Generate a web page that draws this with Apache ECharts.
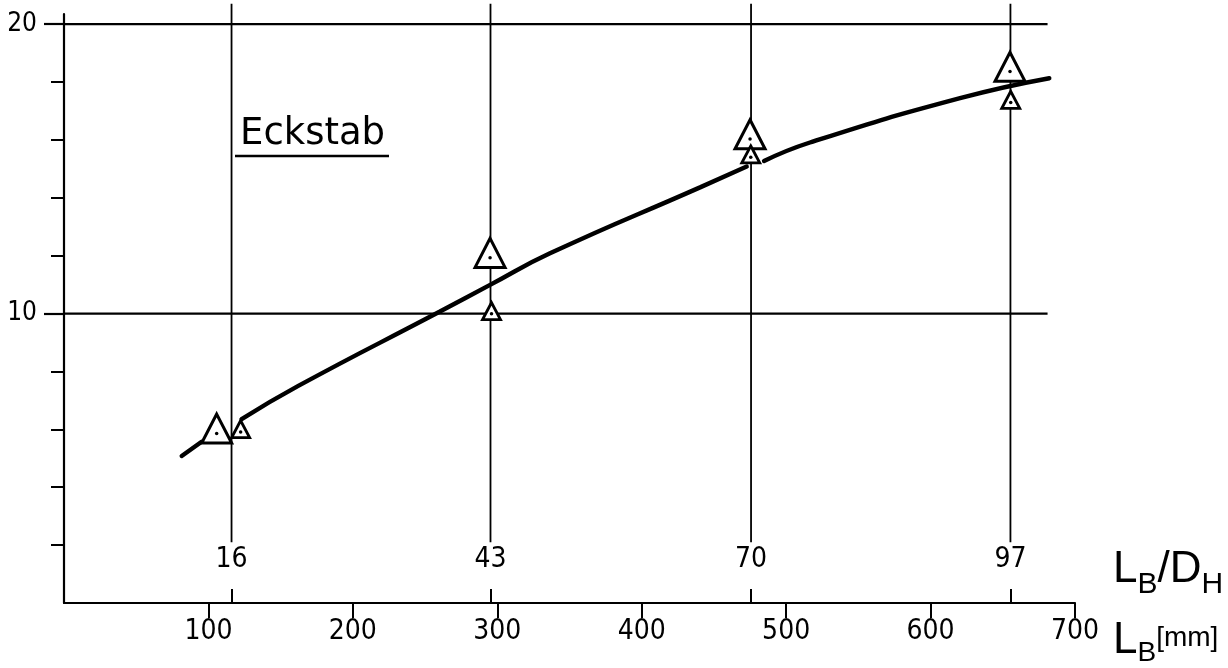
<!DOCTYPE html>
<html>
<head>
<meta charset="utf-8">
<script src="https://cdn.jsdelivr.net/npm/echarts@6/dist/echarts.min.js"></script>
<style>
  html, body { margin: 0; padding: 0; background: #fff; }
  #chart { width: 1228px; height: 668px; }
</style>
</head>
<body>
<div id="chart"></div>
<script>
// Eckstab: measured quantity over bundle length L_B [mm]
const lbTicks = [100, 200, 300, 400, 500, 600, 700];
const yMinorTicks = [2, 4, 6, 8, 12, 14, 16, 18];
const yMajorTicks = [10, 20];
const ratioLabels = ['16', '43', '70', '97'];          // L_B/D_H
const ratioPositions = [116, 295.3, 475.7, 655.3];     // same positions in L_B [mm]
const bigTriangles = [[105.7, 5.86], [295, 11.93], [475, 16.03], [655, 18.36]];
const smallTriangles = [[122.3, 5.91], [296, 9.99], [475.5, 15.40], [655.5, 17.29]];
const curveA = [[81.5, 5.08], [95.3, 5.57]];
const curveB = [[123, 6.35], [162.2, 7.50], [260.3, 10.07], [295, 10.99], [336.5, 12.08], [440.4, 14.36], [472.7, 15.08]];
const curveC = [[484.7, 15.27], [516.5, 15.91], [620.4, 17.44], [682.2, 18.13]];

const X_MAX = 700;
const Y_MAX = 20.35;
const GRID_END = 681;            // right end of the 10 / 20 reference lines
const V_LO = 2.1, V_HI = 20.7;   // extent of the L_B/D_H guide lines

const narrow = '"Liberation Sans Narrow", "DejaVu Sans Condensed", sans-serif';
const sans = '"Liberation Sans", Arial, sans-serif';
const INK = '#000';

const chart = echarts.init(document.getElementById('chart'), null, { renderer: 'canvas' });

// lay out a run of text pieces with their own baselines (sub/superscripts)
const measure = document.createElement('canvas').getContext('2d');
function textRun(x, parts) {
  const out = [];
  for (const p of parts) {
    const font = p.size + 'px ' + p.family;
    measure.font = font;
    out.push({
      type: 'text', x: x, y: p.base - 0.3465 * p.size, z: 100,
      style: { text: p.t, font: font, fill: INK, align: 'left', verticalAlign: 'middle' }
    });
    x += measure.measureText(p.t).width + (p.gap || 0);
  }
  return out;
}

const lineStyleBlack = (w) => ({ color: INK, width: w });

const series = [];

// reference lines at 10 and 20
yMajorTicks.forEach(v => series.push({
  type: 'line', data: [[0, v], [GRID_END, v]], symbol: 'none', silent: true,
  lineStyle: lineStyleBlack(2.2), z: 1, animation: false
}));

// vertical L_B/D_H guide lines
ratioPositions.forEach(x => series.push({
  type: 'line', data: [[x, V_LO], [x, V_HI]], symbol: 'none', clip: false, silent: true,
  lineStyle: lineStyleBlack(1.8), z: 1, animation: false
}));

// fitted curve, broken where it passes the symbols
[curveA, curveB, curveC].forEach(seg => series.push({
  type: 'line', data: seg, symbol: 'none', smooth: 0.5,
  lineStyle: { color: INK, width: 4.4, cap: 'round' }, z: 3, animation: false
}));

// measured points: triangles (centroid on the value) and their centre dots
series.push({
  type: 'scatter', data: bigTriangles, symbol: 'triangle', symbolSize: [30, 29],
  symbolOffset: [0, -4.8],
  itemStyle: { color: '#fff', borderColor: INK, borderWidth: 3, opacity: 1 },
  z: 5, animation: false
});
series.push({
  type: 'scatter', data: smallTriangles, symbol: 'triangle', symbolSize: [18, 17],
  symbolOffset: [0, -2.8],
  itemStyle: { color: '#fff', borderColor: INK, borderWidth: 2.8, opacity: 1 },
  z: 5, animation: false
});
series.push({
  type: 'scatter', data: bigTriangles.concat(smallTriangles), symbol: 'circle', symbolSize: 3.5,
  itemStyle: { color: INK, opacity: 1 }, z: 6, animation: false
});

const option = {
  backgroundColor: '#fff',
  animation: false,
  grid: { left: 64, right: 153, top: 14, bottom: 65, containLabel: false },
  xAxis: [
    {
      type: 'value', min: 0, max: X_MAX, position: 'bottom',
      axisLine: { show: true, lineStyle: lineStyleBlack(2.2) },
      axisTick: { show: true, customValues: lbTicks, length: 15, lineStyle: lineStyleBlack(2) },
      axisLabel: { show: true, customValues: lbTicks, margin: 15, color: INK, fontSize: 28, fontFamily: narrow },
      splitLine: { show: false }
    },
    {
      type: 'value', min: 0, max: X_MAX, position: 'bottom',
      axisLine: { show: false },
      axisTick: { show: true, inside: true, customValues: ratioPositions, length: 14, lineStyle: lineStyleBlack(2) },
      axisLabel: {
        show: true, inside: true, customValues: ratioPositions, margin: 29, color: INK,
        fontSize: 28, fontFamily: narrow,
        formatter: v => ratioLabels[ratioPositions.indexOf(v)]
      },
      splitLine: { show: false }
    }
  ],
  yAxis: [
    {
      type: 'value', min: 0, max: Y_MAX, position: 'left',
      axisLine: { show: true, lineStyle: lineStyleBlack(2.2) },
      axisTick: { show: true, customValues: yMinorTicks, length: 13, lineStyle: lineStyleBlack(2) },
      axisLabel: { show: false },
      splitLine: { show: false }
    },
    {
      type: 'value', min: 0, max: Y_MAX, position: 'left',
      axisLine: { show: false },
      axisTick: { show: true, customValues: yMajorTicks, length: 20, lineStyle: lineStyleBlack(2.2) },
      axisLabel: { show: true, customValues: yMajorTicks, margin: 27, color: INK, fontSize: 26, fontFamily: narrow },
      splitLine: { show: false }
    }
  ],
  series: series,
  graphic: [
    // curve label with underline
    ...textRun(240, [{ t: 'Eckstab', size: 37, family: '"DejaVu Sans", sans-serif', base: 147 }]),
    { type: 'line', shape: { x1: 235, y1: 156, x2: 389, y2: 156 }, style: { stroke: INK, lineWidth: 2.5 }, z: 100 },
    // axis titles
    ...textRun(1113, [
      { t: 'L', size: 44, family: sans, base: 585 },
      { t: 'B', size: 30, family: sans, base: 595 },
      { t: '/D', size: 44, family: sans, base: 585 },
      { t: 'H', size: 30, family: sans, base: 595 }
    ]),
    ...textRun(1113, [
      { t: 'L', size: 44, family: sans, base: 656 },
      { t: 'B', size: 28, family: sans, base: 663 },
      { t: '[mm]', size: 28, family: sans, base: 648 }
    ])
  ]
};

chart.setOption(option);
</script>
</body>
</html>
